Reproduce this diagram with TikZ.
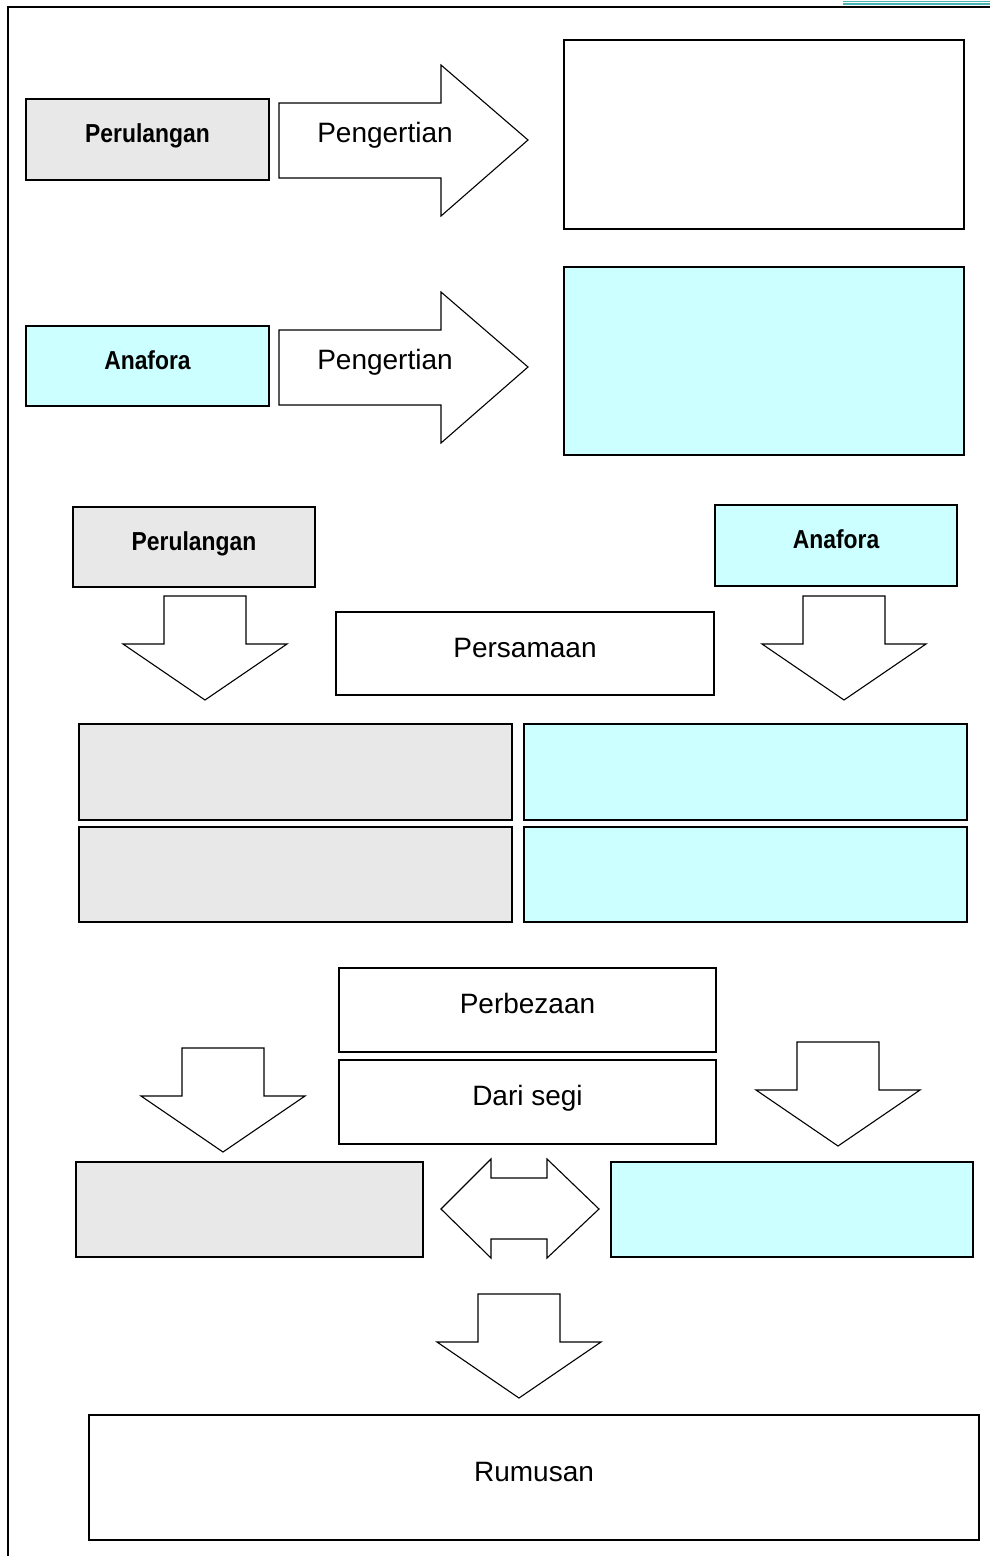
\documentclass[tikz,border=0pt]{standalone}
\usepackage{fontspec}
\setmainfont{Liberation Sans}
\newfontfamily\condbold[FakeStretch=0.88]{Liberation Sans Bold}
\usetikzlibrary{positioning}
\definecolor{greyfill}{HTML}{E8E8E8}
\definecolor{cyanfill}{HTML}{CCFFFF}
\definecolor{rulecol}{HTML}{4BB5B5}
\tikzset{
  figbase/.style={x=1pt, y=-1pt, line join=miter},
  box/.style={draw=black, line width=1.6pt, inner sep=0pt, align=center,
    font=\fontsize{28}{32}\selectfont, text height=20pt, text depth=13pt},
  boxgrey/.style={box, fill=greyfill},
  boxcyan/.style={box, fill=cyanfill},
  boxwhite/.style={box, fill=white},
  lab/.style={font=\condbold\fontsize{26}{30}\selectfont,
    text height=19pt, text depth=13pt},
  blockarr/.style={draw=black, fill=white, line width=1.1pt},
  arrtext/.style={font=\fontsize{28}{32}\selectfont, inner sep=0pt},
}
\begin{document}
\begin{tikzpicture}[figbase]
  \useasboundingbox (0,0) rectangle (990,1556);

  % page frame
  \draw[rulecol, line width=1.2pt] (843,1.2) -- (990,1.2);
  \draw[rulecol, line width=1.2pt] (843,4) -- (990,4);
  \draw[line width=1.5pt] (8,1556) -- (8,7) -- (990,7);

  % definitions
  \node[boxgrey, lab, minimum width=243, minimum height=81] (per1) at (147.5,139.5) {Perulangan};
  \node[boxwhite, minimum width=400, minimum height=189] (def1) at (764,134.5) {};
  \draw[blockarr] (279,103) -- (441,103) -- (441,65) -- (528,140) -- (441,216) -- (441,178) -- (279,178) -- cycle;
  \node[arrtext] (peng1) at (385,135) {Pengertian};

  \node[boxcyan, lab, minimum width=243, minimum height=80] (ana1) at (147.5,366) {Anafora};
  \node[boxcyan, minimum width=400, minimum height=188] (def2) at (764,361) {};
  \draw[blockarr] (279,330) -- (441,330) -- (441,292) -- (528,367) -- (441,443) -- (441,405) -- (279,405) -- cycle;
  \node[arrtext] (peng2) at (385,362) {Pengertian};

  % persamaan
  \node[boxgrey, lab, minimum width=242, minimum height=80] (per2) at (194,547) {Perulangan};
  \node[boxcyan, lab, minimum width=242, minimum height=81] (ana2) at (836,545.5) {Anafora};
  \node[boxwhite, minimum width=378, minimum height=83] (sama) at (525,653.5) {Persamaan};

  \node[boxgrey, minimum width=433, minimum height=96] (gl1) at (295.5,772) {};
  \node[boxgrey, minimum width=433, minimum height=95] (gl2) at (295.5,874.5) {};
  \node[boxcyan, minimum width=443, minimum height=96] (gr1) at (745.5,772) {};
  \node[boxcyan, minimum width=443, minimum height=95] (gr2) at (745.5,874.5) {};

  % perbezaan
  \node[boxwhite, minimum width=377, minimum height=84] (beza) at (527.5,1010) {Perbezaan};
  \node[boxwhite, minimum width=377, minimum height=84] (segi) at (527.5,1102) {Dari segi};
  \node[boxgrey, minimum width=347, minimum height=95] (bl) at (249.5,1209.5) {};
  \node[boxcyan, minimum width=362, minimum height=95] (br) at (792,1209.5) {};
  \draw[blockarr] (441,1209) -- (491,1159) -- (491,1178) -- (547,1178) -- (547,1159) -- (599,1209)
    -- (547,1258) -- (547,1239) -- (491,1239) -- (491,1258) -- cycle;

  % down arrows
  \foreach \cx/\ty in {205/596, 844/596, 223/1048, 838/1042, 519/1294}
    \draw[blockarr] (\cx-41,\ty) -- ++(82,0) -- ++(0,48) -- ++(41,0) -- (\cx,\ty+104)
      -- ++(-82,-56) -- ++(41,0) -- cycle;

  \node[boxwhite, minimum width=890, minimum height=125] (rumus) at (534,1477.5) {Rumusan};
\end{tikzpicture}
\end{document}
